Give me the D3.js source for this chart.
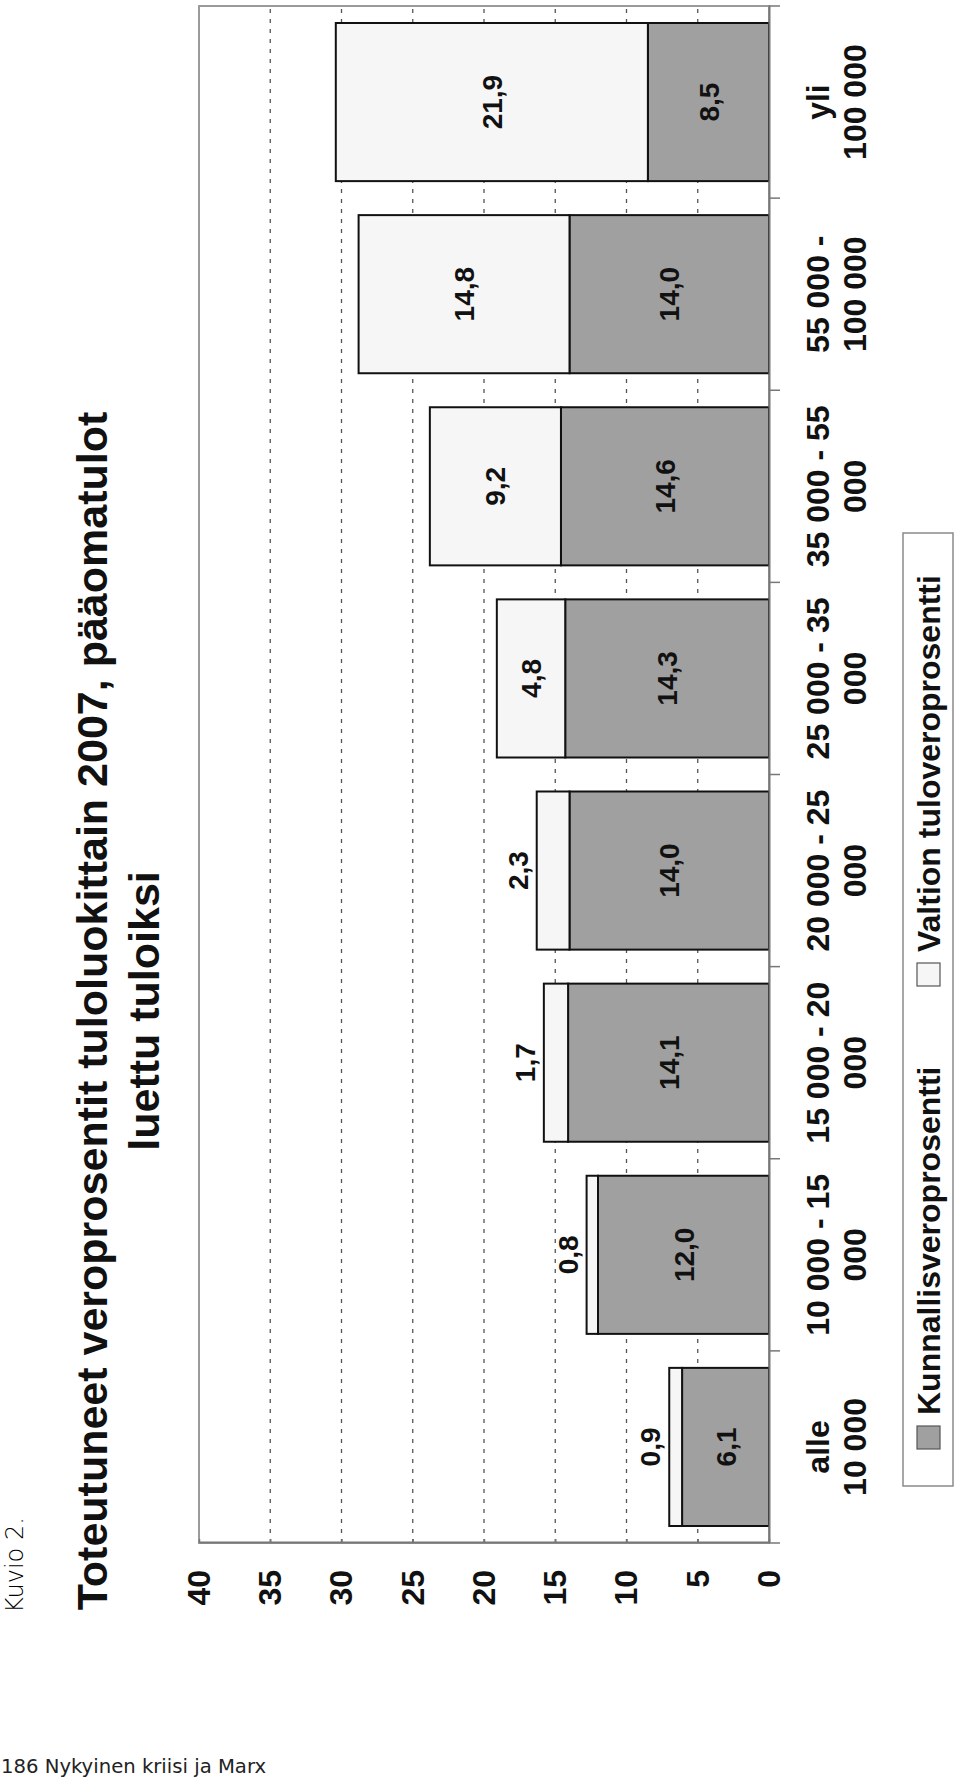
<!DOCTYPE html>
<html><head><meta charset="utf-8">
<script src="https://cdn.jsdelivr.net/npm/d3@7"></script>
<style>body{margin:0;background:#fff} svg{display:block}</style>
</head><body>
<svg id="c" width="960" height="1781"></svg>
<script>
// ---- data ----
const categories = ["alle\n10 000", "10 000 - 15\n000", "15 000 - 20\n000", "20 000 - 25\n000",
                    "25 000 - 35\n000", "35 000 - 55\n000", "55 000 -\n100 000", "yli\n100 000"];
const kunnallis = [6.1, 12.0, 14.1, 14.0, 14.3, 14.6, 14.0, 8.5];
const valtion   = [0.9, 0.8, 1.7, 2.3, 4.8, 9.2, 14.8, 21.9];
const seriesNames = ["Kunnallisveroprosentti", "Valtion tuloveroprosentti"];
const valueTicks = [0, 5, 10, 15, 20, 25, 30, 35, 40];
const gridTicks = [5, 10, 15, 20, 25, 30, 35];
const titleLines = ["Toteutuneet veroprosentit tuloluokittain 2007, pääomatulot", "luettu tuloiksi"];

const colors = ["#a0a0a0", "#f6f6f6"];
const FONT = "'Liberation Sans', Arial, sans-serif";
const fmt = v => d3.format(".1f")(v).replace(".", ",");

const svg = d3.select("#c");
// whole chart is drawn in its original landscape orientation and rotated 90° CCW
const g = svg.append("g").attr("transform", "translate(0,1781) rotate(-90)");

const x = d3.scaleBand().domain(categories).range([238, 1775]).paddingInner(0.177).paddingOuter(0.0885);
const y = d3.scaleLinear().domain([0, 40]).range([769, 199]);

// plot area border
g.append("rect").attr("x", x.range()[0]).attr("y", y(40))
  .attr("width", x.range()[1] - x.range()[0]).attr("height", y(0) - y(40))
  .attr("fill", "#fff").attr("stroke", "#9a9a9a").attr("stroke-width", 2);

// gridlines
g.append("g").selectAll("line").data(gridTicks).join("line")
  .attr("x1", x.range()[0]).attr("x2", x.range()[1])
  .attr("y1", d => y(d)).attr("y2", d => y(d))
  .attr("stroke", "#555").attr("stroke-width", 1.3).attr("stroke-dasharray", "4,6");

// stacked bars
const rows = categories.map((c, i) => ({cat: c, k: kunnallis[i], v: valtion[i]}));
const stack = d3.stack().keys(["k", "v"])(rows);
const bars = g.append("g");
stack.forEach((layer, li) => {
  bars.selectAll(null).data(layer).join("rect")
    .attr("x", d => x(d.data.cat)).attr("width", x.bandwidth())
    .attr("y", d => y(d[1])).attr("height", d => y(d[0]) - y(d[1]))
    .attr("fill", colors[li]).attr("stroke", "#111").attr("stroke-width", 2);
});

// data labels
const lab = g.append("g").attr("font-family", FONT).attr("font-weight", "bold")
  .attr("font-size", 28).attr("fill", "#111").attr("text-anchor", "middle");
stack.forEach((layer, li) => {
  lab.selectAll(null).data(layer).join("text")
    .attr("x", d => x(d.data.cat) + x.bandwidth() / 2)
    .attr("y", d => {
      const val = d[1] - d[0];
      if (li === 1 && val < 3) return y(d[1]) - 9;
      return (y(d[0]) + y(d[1])) / 2;
    })
    .attr("dy", d => (li === 1 && (d[1] - d[0]) < 3) ? 0 : "0.36em")
    .text(d => fmt(d[1] - d[0]));
});

// value axis (left in landscape)
const yAxis = g.append("g").attr("transform", `translate(${x.range()[0]},0)`)
  .call(d3.axisLeft(y).tickValues(valueTicks).tickSizeInner(-4).tickSizeOuter(0).tickPadding(27));
yAxis.select(".domain").attr("stroke", "#777").attr("stroke-width", 2);
yAxis.selectAll(".tick line").attr("stroke", "#777").attr("stroke-width", 1.5);
yAxis.selectAll("text").attr("font-family", FONT).attr("font-weight", "bold")
  .attr("font-size", 32).attr("fill", "#111");

// category axis (bottom in landscape)
const xAxis = g.append("g").attr("transform", `translate(0,${y(0)})`)
  .call(d3.axisBottom(x).tickSize(0).tickFormat(""));
xAxis.select(".domain").attr("stroke", "#777").attr("stroke-width", 2);
const step = x.step();
const bounds = [x.range()[0]].concat(categories.map(c => x(c) - step * x.paddingInner() / 2 + step));
xAxis.selectAll("line.bt").data(bounds).join("line").attr("class", "bt")
  .attr("x1", d => d).attr("x2", d => d).attr("y1", 0).attr("y2", 11)
  .attr("stroke", "#777").attr("stroke-width", 1.5);

const catLab = g.append("g").attr("font-family", FONT).attr("font-weight", "bold")
  .attr("font-size", 32).attr("fill", "#111").attr("text-anchor", "middle");
categories.forEach(c => {
  const t = catLab.append("text").attr("x", x(c) + x.bandwidth() / 2).attr("y", y(0) + 60);
  c.split("\n").forEach((ln, i) => {
    t.append("tspan").attr("x", x(c) + x.bandwidth() / 2).attr("dy", i === 0 ? 0 : 37).text(ln);
  });
});

// legend
const leg = g.append("g");
leg.append("rect").attr("x", 295).attr("y", 903).attr("width", 953).attr("height", 50)
  .attr("fill", "#fff").attr("stroke", "#8a8a8a").attr("stroke-width", 1.5);
const legX = [332, 795];
seriesNames.forEach((s, i) => {
  leg.append("rect").attr("x", legX[i]).attr("y", 917).attr("width", 23).attr("height", 23)
    .attr("fill", colors[i]).attr("stroke", "#555").attr("stroke-width", 1.2);
  leg.append("text").attr("x", legX[i] + 34).attr("y", 940)
    .attr("font-family", FONT).attr("font-weight", "bold").attr("font-size", 32).attr("fill", "#111")
    .text(s);
});

// title
const title = g.append("g").attr("font-family", FONT).attr("font-weight", "bold")
  .attr("font-size", 43).attr("fill", "#111").attr("text-anchor", "middle");
title.append("text").attr("x", 770).attr("y", 107).text(titleLines[0]);
title.append("text").attr("x", 770).attr("y", 159).text(titleLines[1]);

// figure caption
g.append("text").attr("x", 168).attr("y", 23)
  .attr("font-family", "'DejaVu Sans', sans-serif").attr("font-weight", 200)
  .attr("font-size", 24).attr("fill", "#000").text("Kuvio 2.");

// page footer (not rotated)
svg.append("text").attr("x", 1).attr("y", 1773)
  .attr("font-family", "'Liberation Sans Narrow', 'DejaVu Sans Condensed', sans-serif")
  .attr("font-weight", 300).attr("font-size", 19).attr("fill", "#222")
  .attr("textLength", 265).attr("lengthAdjust", "spacingAndGlyphs")
  .text("186 Nykyinen kriisi ja Marx");
</script>
</body></html>
